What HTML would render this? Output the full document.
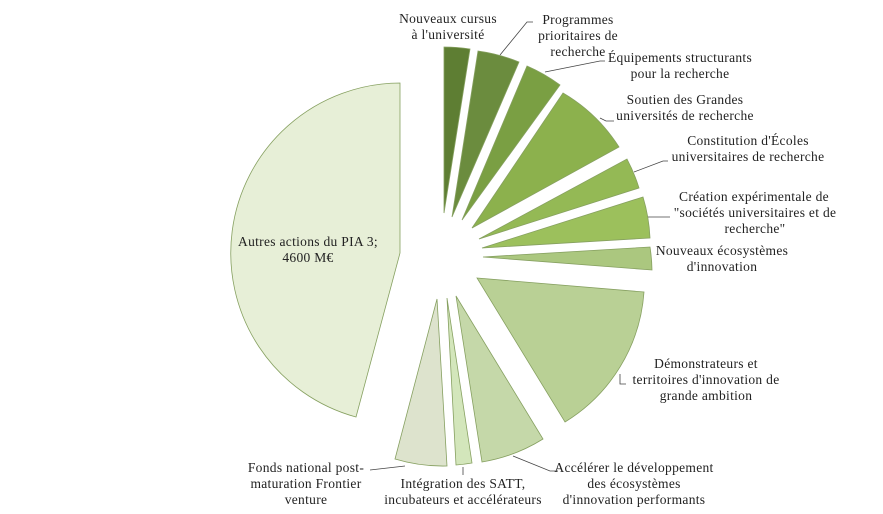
<!DOCTYPE html>
<html><head><meta charset="utf-8"><style>
html,body{margin:0;padding:0;background:#fff;}
svg{display:block;}
text{font-family:"Liberation Serif",serif;font-size:13.5px;letter-spacing:0.3px;fill:#222;}
</style></head><body>
<svg width="883" height="514" viewBox="0 0 883 514" xmlns="http://www.w3.org/2000/svg">
<g stroke="#86a060" stroke-width="0.8">
<path d="M444,213 L444,47 A166,166 0 0 1 470,49 Z" fill="#5e7e33"/>
<path d="M452,217 L478,51 A166,166 0 0 1 519,62 Z" fill="#6b8c3e"/>
<path d="M462,220 L527,66 A166,166 0 0 1 560,85 Z" fill="#7a9f43"/>
<path d="M472,228 L563,93 A166,166 0 0 1 619,147 Z" fill="#8cb14d"/>
<path d="M479,239 L627,159 A166,166 0 0 1 639,188 Z" fill="#94b955"/>
<path d="M482,248 L643,197 A166,166 0 0 1 650,238 Z" fill="#9cc05c"/>
<path d="M483,257 L650,247 A166,166 0 0 1 652,270 Z" fill="#abc77f"/>
<path d="M477,278 L644,292 A166,166 0 0 1 565,422 Z" fill="#b9d095"/>
<path d="M456,296 L543,439 A166,166 0 0 1 482,462 Z" fill="#c5d8a9"/>
<path d="M447,298 L472,463 A166,166 0 0 1 456,465 Z" fill="#d3e6bb"/>
<path d="M437,299 L447,466 A166,166 0 0 1 395,459 Z" fill="#dde3cd"/>
<path d="M400,253 L400,83 A170,170 0 0 0 356,417 Z" fill="#e7efd7"/>
</g>
<g stroke="#444" stroke-width="0.8" fill="none">
<polyline points="500,55 527,22 533,22"/>
<polyline points="545,72 600,61 605,61"/>
<polyline points="600,118 606,121 614,121"/>
<polyline points="634,172 663,161 668,161"/>
<polyline points="648,217 670,217"/>
<polyline points="620,374 620,384 626,384"/>
<polyline points="513,456 550,471 558,471"/>
<polyline points="463,467 463,475"/>
<polyline points="405,466 370,470"/>
</g>
<g text-anchor="middle">
<text x="448" y="23">Nouveaux cursus</text><text x="448" y="39">à l'université</text>
<text x="578" y="24">Programmes</text><text x="578" y="40">prioritaires de</text><text x="578" y="56">recherche</text>
<text x="680" y="62">Équipements structurants</text><text x="680" y="78">pour la recherche</text>
<text x="685" y="104">Soutien des Grandes</text><text x="685" y="120">universités de recherche</text>
<text x="748" y="145">Constitution d'Écoles</text><text x="748" y="161">universitaires de recherche</text>
<text x="754" y="201">Création expérimentale  de</text><text x="755" y="217">"sociétés universitaires et de</text><text x="755" y="233">recherche"</text>
<text x="722" y="255">Nouveaux écosystèmes</text><text x="722" y="271">d'innovation</text>
<text x="706" y="368">Démonstrateurs et</text><text x="706" y="384">territoires d'innovation de</text><text x="706" y="400">grande ambition</text>
<text x="634" y="472">Accélérer le développement</text><text x="634" y="488">des écosystèmes</text><text x="634" y="504">d'innovation performants</text>
<text x="463" y="488">Intégration des SATT,</text><text x="463" y="504">incubateurs et accélérateurs</text>
<text x="306" y="472">Fonds national post-</text><text x="306" y="488">maturation Frontier</text><text x="306" y="504">venture</text>
<text x="308" y="246">Autres actions du PIA 3;</text><text x="308" y="262">4600 M€</text>
</g>
</svg>
</body></html>
